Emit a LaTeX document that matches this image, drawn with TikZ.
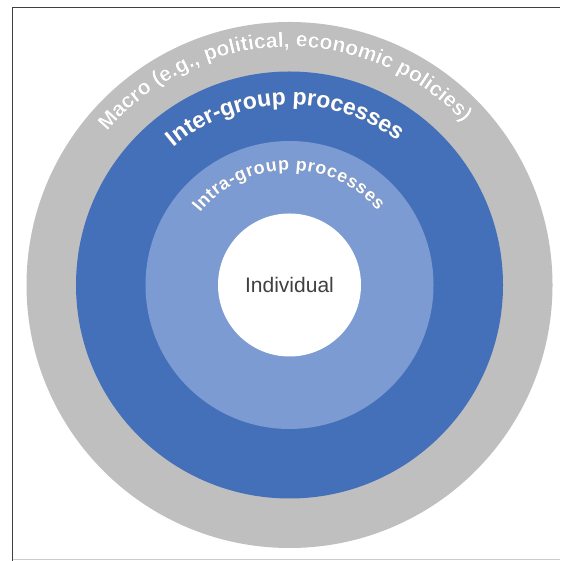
\documentclass[tikz,border=0pt]{standalone}
\usepackage{fontspec}
\setmainfont{Liberation Sans}
\usetikzlibrary{decorations.text}

\definecolor{macrogray}{HTML}{BFBFBF}
\definecolor{interblue}{HTML}{4470B9}
\definecolor{intrablue}{HTML}{7B9BD2}
\definecolor{framegray}{HTML}{404040}
\definecolor{labelgray}{HTML}{404040}
\definecolor{shadowgray}{HTML}{4A4A4A}

\newcommand\macrofont{\bfseries\fontsize{21}{21}\selectfont}
\newcommand\interfont{\bfseries\fontsize{23}{23}\selectfont}
\newcommand\intrafont{\bfseries\fontsize{18}{18}\selectfont}

% curved label with a soft drop shadow:
% #1 text, #2 font, #3 baseline radius, #4 start angle, #5 end angle
\newcommand\ringlabel[5]{%
  \path[shift={(1.1,-1.1)}, arctext={#1}{shadowgray!75}{#2}]
    (c) ++(#4:#3) arc[start angle=#4, end angle=#5, radius=#3];
  \path[arctext={#1}{white}{#2}]
    (c) ++(#4:#3) arc[start angle=#4, end angle=#5, radius=#3];
}

\begin{document}
\begin{tikzpicture}[x=1pt, y=1pt,
  ring/.style={circle, inner sep=0pt, draw=none},
  arctext/.style n args={3}{decorate, decoration={text effects along path,
      text={#1}, text effects/.cd, text along path, fit text to path,
      characters={text=#2, font=#3}}},
]
\useasboundingbox (0,0) rectangle (560,561);

% frame
\draw[framegray, line width=1.3] (12.7,0) -- (12.7,553.5) -- (560,553.5);
\draw[black!20, line width=1] (12.7,1) -- (560,1);

\coordinate (c) at (289.5,276);

% nested rings
\node[ring, fill=macrogray, minimum size=526] (macro) at (c) {};
\node[ring, fill=interblue, minimum size=427] (inter) at (c) {};
\node[ring, fill=intrablue, minimum size=288] (intra) at (c) {};
\node[ring, fill=white, minimum size=143, text=labelgray,
      font=\fontsize{21}{21}\selectfont] (individual) at (c) {Individual};

% ring labels
\ringlabel{Macro (e.g., political, economic policies)}{\macrofont}{238}{140}{43}
\ringlabel{Inter-group processes}{\interfont}{180}{130}{53}
\ringlabel{Intra-group processes}{\intrafont}{115}{141}{40}

\end{tikzpicture}
\end{document}
